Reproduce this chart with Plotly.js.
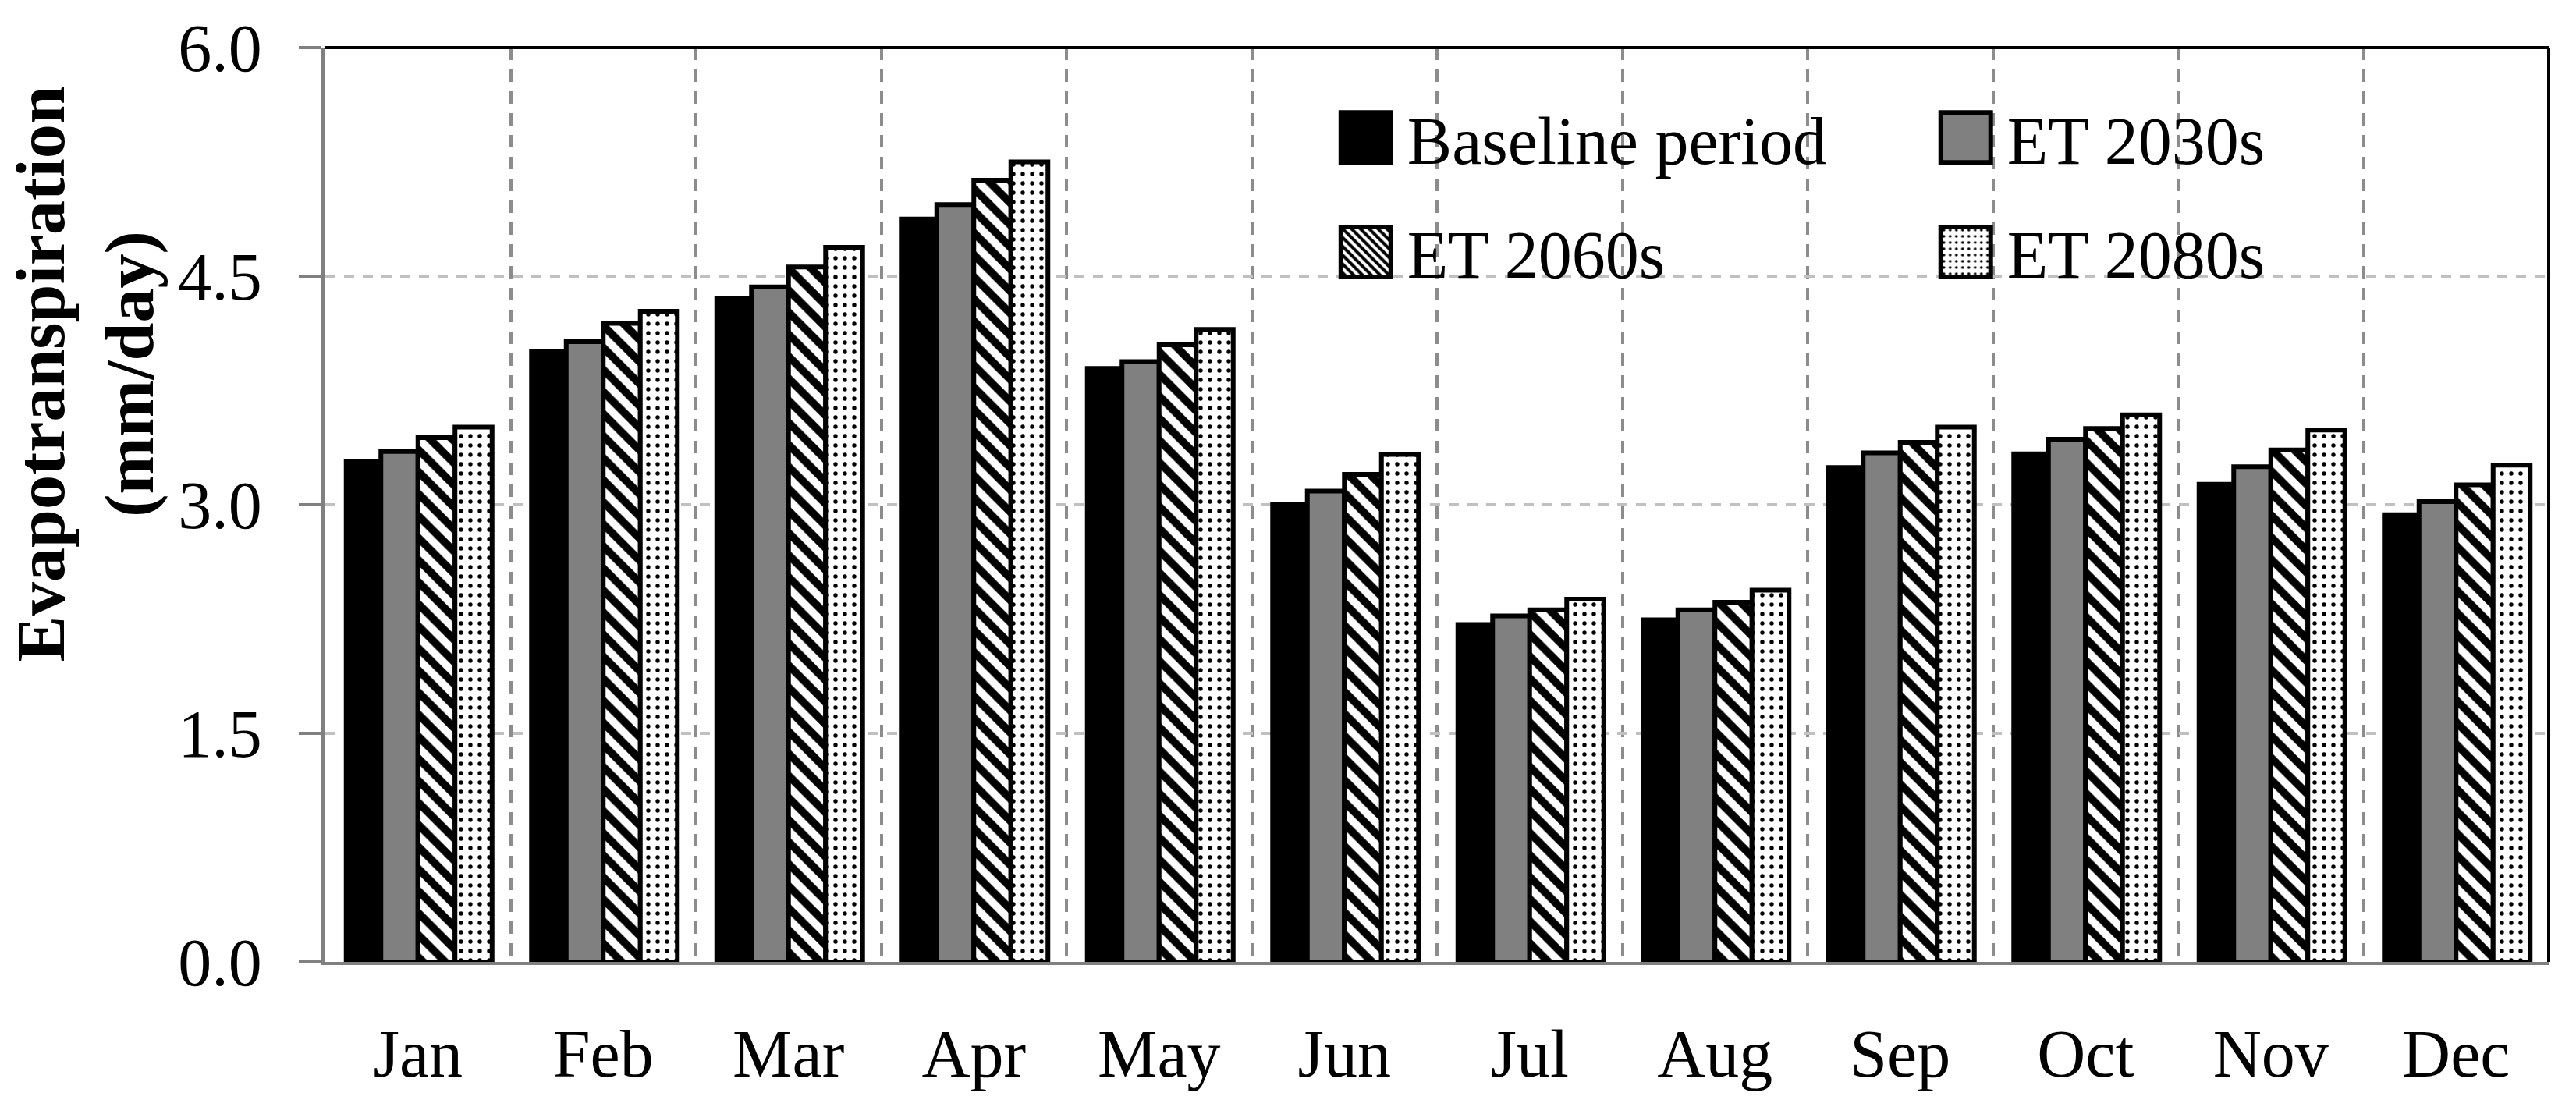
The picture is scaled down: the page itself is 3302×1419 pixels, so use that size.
<!DOCTYPE html>
<html>
<head>
<meta charset="utf-8">
<script src="https://cdn.plot.ly/plotly-3.0.1.min.js"></script>
<style>
html,body{margin:0;padding:0;background:#fff;}
#chart{width:3302px;height:1419px;}
</style>
</head>
<body>
<div id="chart"></div>
<script>
// ---- data ----
const months = ['Jan','Feb','Mar','Apr','May','Jun','Jul','Aug','Sep','Oct','Nov','Dec'];
const baseline = [3.30,4.02,4.37,4.89,3.91,3.02,2.23,2.26,3.26,3.35,3.15,2.95];
const et2030s  = [3.35,4.07,4.43,4.97,3.94,3.09,2.27,2.31,3.34,3.43,3.25,3.02];
const et2060s  = [3.44,4.19,4.56,5.13,4.05,3.20,2.31,2.36,3.41,3.50,3.36,3.13];
const et2080s  = [3.51,4.27,4.69,5.25,4.15,3.33,2.38,2.44,3.51,3.59,3.49,3.26];
const seriesNames = ['Baseline period','ET 2030s','ET 2060s','ET 2080s'];
const yTickVals = [0,1.5,3,4.5,6];
const yTickText = ['0.0','1.5','3.0','4.5','6.0'];
const yTitleLines = ['Evapotranspiration','(mm/day)'];

const FONT = '"Liberation Serif", "Times New Roman", Times, serif';

const traces = [
  {type:'bar', name:seriesNames[0], x:months, y:baseline, legend:'legend', legendgroup:'g0',
   marker:{color:'#000000', line:{color:'#000000', width:0}}},
  {type:'bar', name:seriesNames[1], x:months, y:et2030s, legend:'legend2', legendgroup:'g1',
   marker:{color:'#808080', line:{color:'#000000', width:6}}},
  {type:'bar', name:seriesNames[2], x:months, y:et2060s, legend:'legend', legendgroup:'g2',
   marker:{color:'#ffffff', line:{color:'#000000', width:6},
           pattern:{shape:'\\', fgcolor:'#000000', bgcolor:'#ffffff', size:20, solidity:0.5}}},
  {type:'bar', name:seriesNames[3], x:months, y:et2080s, legend:'legend2', legendgroup:'g3',
   marker:{color:'#ffffff', line:{color:'#000000', width:6},
           pattern:{shape:'.', fgcolor:'#000000', bgcolor:'#ffffff', size:12, solidity:0.16}}}
];

const legendCommon = {
  xanchor:'left', yanchor:'top', y:0.955, bgcolor:'rgba(0,0,0,0)', borderwidth:0,
  itemwidth:96, traceorder:'grouped', tracegroupgap:32,
  font:{family:FONT, size:86, color:'#000'}, orientation:'v'
};

const layout = {
  width:3302, height:1419,
  margin:{l:417, r:35, t:61, b:186, autoexpand:false},
  paper_bgcolor:'#ffffff', plot_bgcolor:'#ffffff',
  font:{family:FONT, size:86, color:'#000000'},
  barmode:'group', bargap:0.2, bargroupgap:0,
  hovermode:false,
  showlegend:true,
  xaxis:{
    type:'category', tickson:'boundaries',
    showgrid:true, gridcolor:'#8c8c8c', gridwidth:4, griddash:'16px,12px',
    showline:true, linecolor:'#808080', linewidth:4,
    ticks:'', ticklabelstandoff:40, zeroline:false,
    tickfont:{family:FONT, size:86, color:'#000'}
  },
  yaxis:{
    range:[0,6], tickvals:yTickVals, ticktext:yTickText,
    showgrid:true, gridcolor:'#c0c0c0', gridwidth:4, griddash:'13px,11px',
    showline:true, linecolor:'#808080', linewidth:5,
    ticks:'outside', ticklen:29, tickwidth:4, tickcolor:'#808080',
    ticklabelstandoff:30, zeroline:false,
    tickfont:{family:FONT, size:86, color:'#000'}
  },
  legend:Object.assign({x:0.4494}, legendCommon),
  legend2:Object.assign({x:0.7192}, legendCommon),
  shapes:[
    // white legend box, hides gridlines behind the legend
    {type:'rect', xref:'paper', yref:'paper', x0:0.4194, x1:0.8735, y0:0.710, y1:0.957,
     fillcolor:'#ffffff', line:{width:0}, layer:'between'},
    {type:'line', xref:'paper', yref:'paper', x0:0, x1:1, y0:1, y1:1, line:{color:'#000', width:4}, layer:'above'},
    {type:'line', xref:'paper', yref:'paper', x0:1, x1:1, y0:0, y1:1, line:{color:'#000', width:4}, layer:'above'}
  ],
  annotations:[{
    text:'<b>'+yTitleLines.join('</b><br><b>')+'</b>',
    xref:'paper', yref:'paper', x:-0.108, y:0.643, xanchor:'center', yanchor:'middle',
    textangle:-90, showarrow:false, font:{family:FONT, size:88, color:'#000'}
  }]
};

Plotly.newPlot('chart', traces, layout, {staticPlot:true, displayModeBar:false}).then(function(){
  document.querySelectorAll('.legendpoints path').forEach(function(p){
    p.setAttribute('d','M32,32H-32V-32H32Z');
    p.style.stroke = '#000000';
    p.style.strokeWidth = '6px';
  });
});
</script>
</body>
</html>
